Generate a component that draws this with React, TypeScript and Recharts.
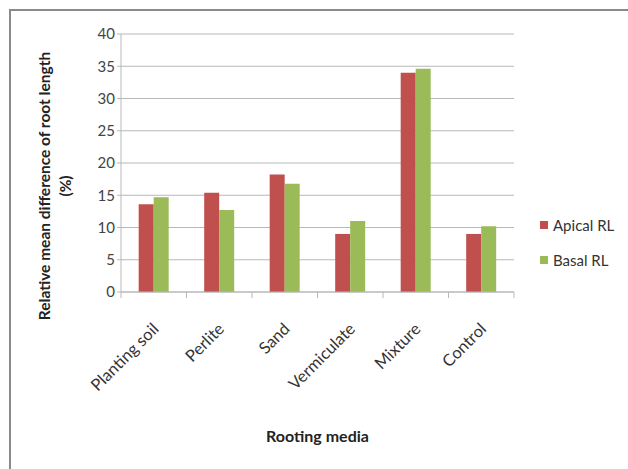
import * as React from "react";
import { BarChart, Bar, CartesianGrid, XAxis, YAxis } from "recharts";

const media = ["Planting soil", "Perlite", "Sand", "Vermiculate", "Mixture", "Control"];
const apicalRL = [13.6, 15.4, 18.2, 9.0, 34.0, 9.0];
const basalRL = [14.7, 12.7, 16.8, 11.0, 34.6, 10.2];
const yTicks = [0, 5, 10, 15, 20, 25, 30, 35, 40];

const seriesNames = ["Apical RL", "Basal RL"];
const seriesColors = ["#C0504D", "#9BBB59"];

const font = "Lato, 'Open Sans', sans-serif";

const W = 628;
const H = 469;
const margin = { top: 34, right: 114, left: 61, bottom: 77 };
const yAxisWidth = 60;
const xAxisHeight = 100;
const plotWidth = W - margin.left - margin.right - yAxisWidth;
const plotBottom = H - margin.bottom - xAxisHeight;
const bandStep = plotWidth / media.length;

const chartData = media.map((name, i) => ({
  name,
  apical: apicalRL[i],
  basal: basalRL[i],
}));

function MediaTick(props: any) {
  const { x, y, payload, index } = props;
  const left = x - bandStep / 2;
  return (
    <g>
      <line x1={left} x2={left} y1={plotBottom} y2={plotBottom + 6} stroke="#b8b8b8" />
      {index === media.length - 1 && (
        <line
          x1={left + bandStep}
          x2={left + bandStep}
          y1={plotBottom}
          y2={plotBottom + 6}
          stroke="#b8b8b8"
        />
      )}
      <g transform={`translate(${x + 6},${y + 30})`}>
        <text textAnchor="end" transform="rotate(-45)" fontSize={16.5} fontFamily={font} fill="#333">
          {payload.value}
        </text>
      </g>
    </g>
  );
}

function YTitle() {
  const cy = 186;
  return (
    <g fontFamily={font} fontWeight="bold" fontSize={15.5} fill="#222" textAnchor="middle">
      <text transform={`translate(50,${cy}) rotate(-90)`}>
        Relative mean difference of root length
      </text>
      <text transform={`translate(71,${cy}) rotate(-90)`}>(%)</text>
    </g>
  );
}

export default function App() {
  return (
    <div style={{ position: "absolute", left: 0, top: 0, width: W, height: H }}>
      <div
        style={{
          position: "absolute",
          left: 9,
          top: 9,
          width: 630,
          height: 470,
          border: "2px solid #8a8a8a",
          boxSizing: "border-box",
        }}
      />
      <BarChart
        width={W}
        height={H}
        data={chartData}
        margin={margin}
        barCategoryGap="27%"
        barGap={0}
        style={{ position: "absolute", left: 0, top: 0 }}
      >
        <CartesianGrid vertical={false} stroke="#b8b8b8" />
        <XAxis
          dataKey="name"
          height={xAxisHeight}
          interval={0}
          tick={<MediaTick />}
          tickLine={false}
          axisLine={{ stroke: "#b8b8b8" }}
          label={{
            value: "Rooting media",
            position: "insideBottom",
            offset: -50,
            style: { fontFamily: font, fontWeight: "bold", fontSize: 16, fill: "#222" },
          }}
        />
        <YAxis
          width={yAxisWidth}
          domain={[0, 40]}
          ticks={yTicks}
          interval={0}
          tickSize={4}
          tickLine={{ stroke: "#b8b8b8" }}
          axisLine={{ stroke: "#b8b8b8" }}
          tick={{ fontFamily: font, fontSize: 15, fill: "#444" }}
          label={<YTitle />}
        />
        <Bar dataKey="apical" name="Apical RL" fill={seriesColors[0]} isAnimationActive={false} />
        <Bar dataKey="basal" name="Basal RL" fill={seriesColors[1]} isAnimationActive={false} />
      </BarChart>
      <div
        style={{
          position: "absolute",
          left: 540,
          top: 207,
          fontFamily: font,
          fontSize: 15,
          color: "#333",
        }}
      >
        {seriesNames.map((n, i) => (
          <div key={n} style={{ display: "flex", alignItems: "center", height: 35 }}>
            <span
              style={{
                width: 8,
                height: 8,
                background: seriesColors[i],
                marginRight: 5,
                display: "inline-block",
              }}
            />
            {n}
          </div>
        ))}
      </div>
    </div>
  );
}
